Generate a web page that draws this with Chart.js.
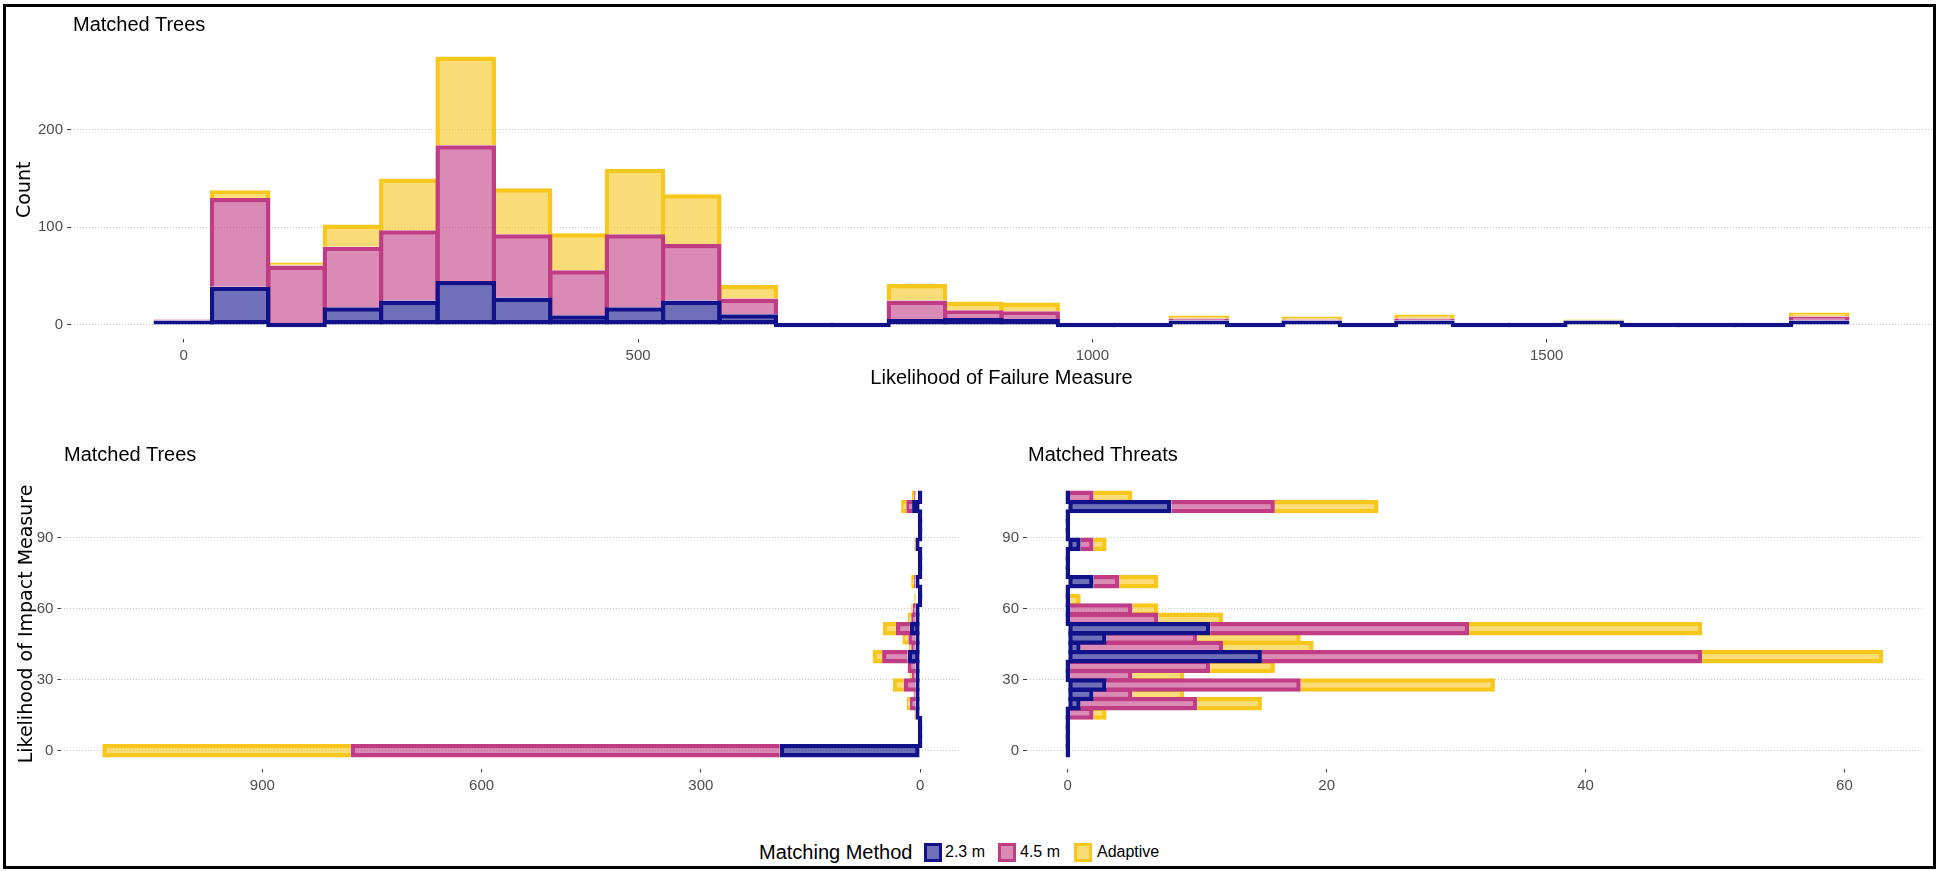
<!DOCTYPE html>
<html>
<head>
<meta charset="utf-8">
<title>Matched Trees and Threats</title>
<script src="https://cdn.jsdelivr.net/npm/chart.js@4.4.1/dist/chart.umd.min.js"></script>
<style>
  html, body { margin: 0; padding: 0; background: #ffffff; }
  body { width: 1944px; height: 871px; position: relative; overflow: hidden;
         font-family: "Liberation Sans", Arial, sans-serif; }
  .frame { position: absolute; left: 3px; top: 4px; width: 1933px; height: 865px;
           border: 3px solid #000; box-sizing: border-box; }
  canvas { position: absolute; }
  .ptitle { position: absolute; font-size: 20px; line-height: 20px; color: #000; white-space: nowrap; }
  .leg-text { position: absolute; color: #000; white-space: nowrap; line-height: 1; }
  .leg-key { position: absolute; width: 12px; height: 13px; border: 3px solid; }
</style>
</head>
<body>
<div class="frame"></div>

<canvas id="failureChart" width="1944" height="400" style="left:0;top:0;"></canvas>
<canvas id="treesChart" width="990" height="400" style="left:0;top:400px;"></canvas>
<canvas id="threatsChart" width="954" height="400" style="left:990px;top:400px;"></canvas>

<div class="ptitle" style="left:73px;top:14px;">Matched Trees</div>
<div class="ptitle" style="left:64px;top:444px;">Matched Trees</div>
<div class="ptitle" style="left:1028px;top:444px;">Matched Threats</div>

<div id="legend"></div>

<script>
// ---- Matching methods and their colours ----
const methods = ['2.3 m', '4.5 m', 'Adaptive'];
const strokeColors = ['#11118a', '#c03c84', '#f7c71e'];
const fillColors = ['rgba(17,17,138,0.6)', 'rgba(192,60,132,0.6)', 'rgba(247,199,30,0.6)'];

// ---- Likelihood of Failure histogram (bin centres, counts per method) ----
const failureBins = [0, 62.1, 124.1, 186.2, 248.3, 310.3, 372.4, 434.5, 496.6, 558.6,
                     620.7, 682.8, 744.8, 806.9, 869.0, 931.0, 993.1, 1055.2, 1117.2, 1179.3,
                     1241.4, 1303.4, 1365.5, 1427.6, 1489.7, 1551.7, 1613.8, 1675.9, 1737.9, 1800.0];
const failure23 = [3, 39, 0, 18, 25, 45, 28, 10, 18, 25, 11, 0, 0, 6, 7, 6, 0, 0, 3, 0, 2, 0, 3, 0, 0, 3, 0, 0, 0, 4];
const failure45 = [1, 91, 61, 62, 72, 139, 65, 46, 75, 58, 16, 0, 0, 19, 8, 8, 0, 0, 2, 0, 1, 0, 2, 0, 0, 0, 0, 0, 0, 4];
const failureAd = [0, 8, 3, 23, 53, 91, 47, 38, 67, 51, 14, 0, 0, 17, 9, 9, 0, 0, 3, 0, 3, 0, 4, 0, 0, 1, 0, 0, 0, 4];
const failureTicks = [0, 500, 1000, 1500];
const countTicks = [0, 100, 200];

// ---- Likelihood of Impact histograms (bin centres, counts per method) ----
const impactBins = [0, 3.96, 7.92, 11.88, 15.84, 19.8, 23.76, 27.72, 31.68, 35.64,
                    39.6, 43.56, 47.52, 51.48, 55.44, 59.4, 63.36, 67.32, 71.28, 75.24,
                    79.2, 83.16, 87.12, 91.08, 95.04, 99.0, 102.96, 106.92];
const trees23 = [192, 0, 0, 0, 1, 4, 1, 5, 2, 3, 17, 3, 3, 14, 2, 1, 0, 0, 3, 0, 0, 0, 3, 0, 0, 0, 11, 0];
const trees45 = [587, 0, 0, 0, 1, 8, 2, 16, 5, 11, 35, 6, 10, 19, 6, 4, 0, 0, 2, 0, 0, 0, 1, 0, 0, 0, 8, 2];
const treesAd = [340, 0, 0, 0, 1, 4, 1, 15, 3, 0, 13, 3, 8, 18, 5, 2, 2, 0, 4, 0, 0, 0, 1, 0, 0, 0, 7, 3];
const threats23 = [0, 0, 0, 0, 0, 1, 2, 3, 0, 0, 15, 1, 3, 11, 0, 0, 0, 0, 2, 0, 0, 0, 1, 0, 0, 0, 8, 0];
const threats45 = [0, 0, 0, 0, 2, 9, 3, 15, 5, 11, 34, 11, 7, 20, 7, 5, 0, 0, 2, 0, 0, 0, 1, 0, 0, 0, 8, 2];
const threatsAd = [0, 0, 0, 0, 1, 5, 4, 15, 4, 5, 14, 7, 8, 18, 5, 2, 1, 0, 3, 0, 0, 0, 1, 0, 0, 0, 8, 3];
const impactTicks = [0, 30, 60, 90];
const treeCountTicks = [0, 300, 600, 900];
const threatCountTicks = [0, 20, 40, 60];

const TICK_FONT = { family: "'Liberation Sans', Arial, sans-serif", size: 15 };
const XTITLE_FONT = { family: "'Liberation Sans', Arial, sans-serif", size: 20 };
const YTITLE_FONT = { family: "'DejaVu Sans', sans-serif", size: 19 };
const BAR_BORDER = 4.5;

function fixedTicks(list) {
  return scale => { scale.ticks = list.map(v => ({ value: v })); };
}
// plain numbers, no thousands separator
const plainLabel = v => String(v);

// Stacked histogram datasets; the first method sits at the base and is drawn on top
function makeDatasets(bins, series, horizontal, barPct) {
  return series.map((vals, i) => ({
    label: methods[i],
    data: vals.map((v, j) => horizontal ? { x: v, y: bins[j] } : { x: bins[j], y: v }),
    backgroundColor: fillColors[i],
    borderColor: strokeColors[i],
    borderWidth: BAR_BORDER,
    borderSkipped: i === 0 ? false : 'start',
    minBarLength: i === 0 ? 4.5 : 0,
    barPercentage: barPct,
    categoryPercentage: 1,
    inflateAmount: 0
  }));
}

function valueGrid() {
  return { color: '#c8c8c8', lineWidth: 1, drawTicks: true, tickLength: 4,
           tickColor: '#444', tickWidth: 1, offset: false };
}
function indexGridHidden() {
  return { drawOnChartArea: false, drawTicks: true, tickLength: 4,
           tickColor: '#444', tickWidth: 1, offset: false };
}
function tickStyle() {
  return { font: TICK_FONT, color: '#4d4d4d', padding: 4, maxRotation: 0, autoSkip: false,
           callback: plainLabel };
}

const common = {
  responsive: false,
  maintainAspectRatio: false,
  devicePixelRatio: 1,
  animation: false,
  plugins: { legend: { display: false }, tooltip: { enabled: false }, title: { display: false } }
};

// ---- Top panel: Likelihood of Failure ----
new Chart(document.getElementById('failureChart'), {
  type: 'bar',
  data: { datasets: makeDatasets(failureBins, [failure23, failure45, failureAd], false, 1.075) },
  options: Object.assign({}, common, {
    layout: { autoPadding: false, padding: { left: 0, top: 41, right: 12, bottom: 0 } },
    scales: {
      x: {
        type: 'linear', stacked: true, offset: false, min: -124.1, max: 1924.1,
        afterBuildTicks: fixedTicks(failureTicks),
        afterFit: s => { s.height = 61.5; },
        grid: indexGridHidden(),
        border: { display: false },
        ticks: tickStyle(),
        title: { display: true, text: 'Likelihood of Failure Measure', font: XTITLE_FONT,
                 color: '#000', padding: { top: 0, bottom: 10 } }
      },
      y: {
        type: 'linear', stacked: true, min: -13.9, max: 290.9,
        afterBuildTicks: fixedTicks(countTicks),
        afterFit: s => { s.width = 71; },
        grid: valueGrid(),
        border: { display: false, dash: [1, 2] },
        ticks: tickStyle(),
        title: { display: true, text: 'Count', font: YTITLE_FONT, color: '#000',
                 padding: { top: 13.4, bottom: 0 } }
      }
    }
  })
});

// ---- Bottom left: Likelihood of Impact, matched trees (count axis reversed) ----
new Chart(document.getElementById('treesChart'), {
  type: 'bar',
  data: { datasets: makeDatasets(impactBins, [trees23, trees45, treesAd], true, 1.43) },
  options: Object.assign({}, common, {
    indexAxis: 'y',
    layout: { autoPadding: false, padding: { left: 0, top: 79.4, right: 29, bottom: 0 } },
    scales: {
      x: {
        type: 'linear', stacked: true, reverse: true, min: -55.95, max: 1174.95,
        afterBuildTicks: fixedTicks(treeCountTicks),
        afterFit: s => { s.height = 31.5; },
        grid: indexGridHidden(),
        border: { display: false },
        ticks: tickStyle()
      },
      y: {
        type: 'linear', stacked: true, offset: false, min: -7.52, max: 114.46,
        afterBuildTicks: fixedTicks(impactTicks),
        afterFit: s => { s.width = 61.4; },
        grid: valueGrid(),
        border: { display: false, dash: [1, 2] },
        ticks: tickStyle(),
        title: { display: true, text: 'Likelihood of Impact Measure', font: YTITLE_FONT,
                 color: '#000', padding: { top: 15.3, bottom: 0 } }
      }
    }
  })
});

// ---- Bottom right: Likelihood of Impact, matched threats ----
new Chart(document.getElementById('threatsChart'), {
  type: 'bar',
  data: { datasets: makeDatasets(impactBins, [threats23, threats45, threatsAd], true, 1.43) },
  options: Object.assign({}, common, {
    indexAxis: 'y',
    layout: { autoPadding: false, padding: { left: 0, top: 79.4, right: 20, bottom: 0 } },
    scales: {
      x: {
        type: 'linear', stacked: true, min: -3.15, max: 66.15,
        afterBuildTicks: fixedTicks(threatCountTicks),
        afterFit: s => { s.height = 31.5; },
        grid: indexGridHidden(),
        border: { display: false },
        ticks: tickStyle()
      },
      y: {
        type: 'linear', stacked: true, offset: false, min: -7.52, max: 114.46,
        afterBuildTicks: fixedTicks(impactTicks),
        afterFit: s => { s.width = 37; },
        grid: valueGrid(),
        border: { display: false, dash: [1, 2] },
        ticks: tickStyle()
      }
    }
  })
});

// ---- Shared legend ----
(function buildLegend() {
  const host = document.getElementById('legend');
  const title = document.createElement('div');
  title.className = 'leg-text';
  title.style.cssText = 'left:759px;top:842px;font-size:20px;';
  title.textContent = 'Matching Method';
  host.appendChild(title);
  const keyLeft = [924, 998, 1074];
  const labelLeft = [945, 1020, 1097];
  methods.forEach((m, i) => {
    const key = document.createElement('div');
    key.className = 'leg-key';
    key.style.left = keyLeft[i] + 'px';
    key.style.top = '843px';
    key.style.borderColor = strokeColors[i];
    key.style.background = fillColors[i];
    host.appendChild(key);
    const lab = document.createElement('div');
    lab.className = 'leg-text';
    lab.style.cssText = 'left:' + labelLeft[i] + 'px;top:844px;font-size:16px;';
    lab.textContent = m;
    host.appendChild(lab);
  });
})();
</script>
</body>
</html>
